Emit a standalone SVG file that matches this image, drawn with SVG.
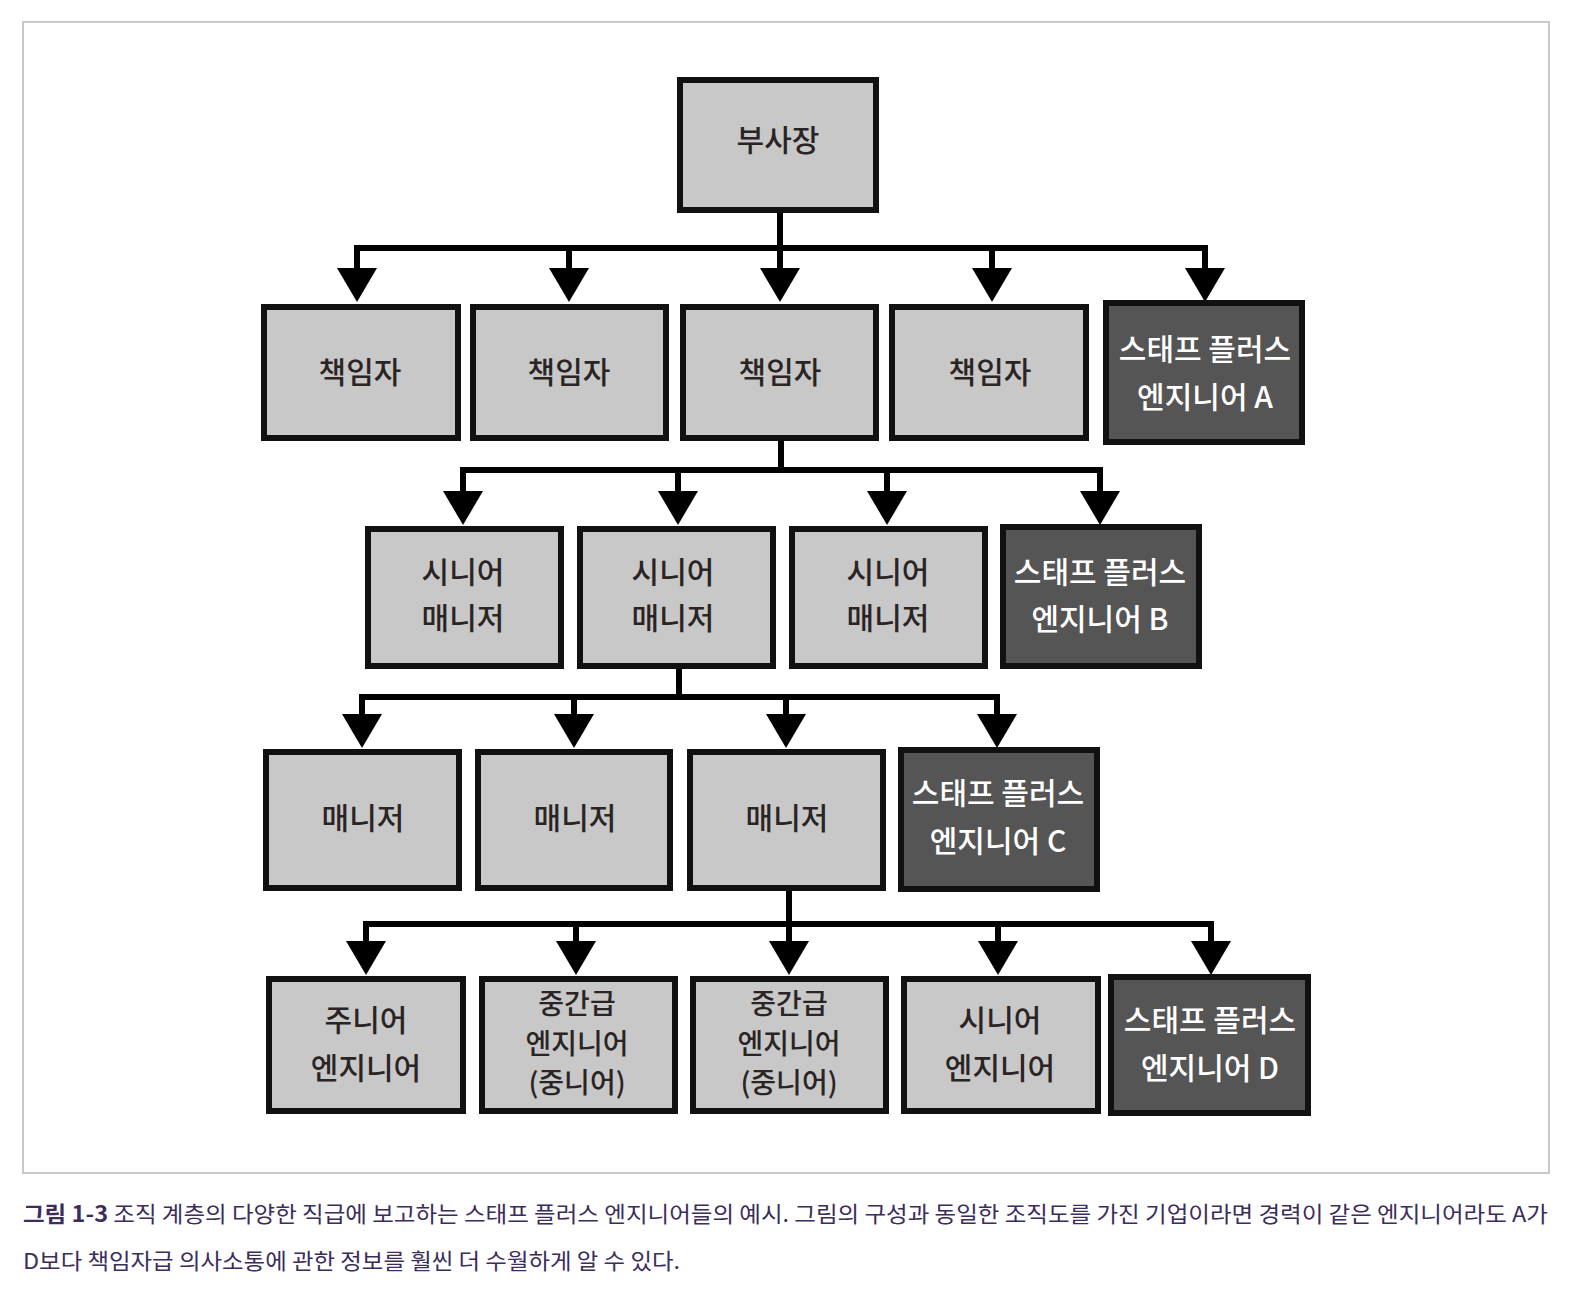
<svg xmlns="http://www.w3.org/2000/svg" width="1570" height="1294" viewBox="0 0 1570 1294">
<defs>
<style>
.frame{fill:#ffffff;stroke:#c8c8c8;stroke-width:2}
.box{stroke:#111111;stroke-width:6;stroke-linejoin:miter}
.light{fill:#c8c8c8}
.dark{fill:#555555}
.t{font-family:"Noto Sans CJK KR","Noto Sans",sans-serif;font-size:30px;font-weight:500;text-anchor:middle}
.s{font-size:28px}
.tl{fill:#2a2424}
.td{fill:#ffffff}
.line{stroke:#000000;stroke-width:6;fill:none;stroke-linecap:butt}
.cap{font-family:"Noto Sans CJK KR","Noto Sans",sans-serif;font-size:22px;fill:#3b2d5c}
</style>
<marker id="arr" viewBox="0 0 34 40" refX="24" refY="20" markerWidth="34" markerHeight="40" markerUnits="userSpaceOnUse" orient="auto">
<path d="M0,0 L34,20 L0,40 Z" fill="#000000"/>
</marker>
</defs>
<rect x="0" y="0" width="1570" height="1294" fill="#ffffff"/>
<rect class="frame" x="23" y="22" width="1526" height="1151"/>

<g id="connectors">
<path class="line" d="M780,212 V248"/>
<path class="line" d="M354,248 H1208"/>
<path class="line" d="M357,248 V292" marker-end="url(#arr)"/>
<path class="line" d="M569,248 V292" marker-end="url(#arr)"/>
<path class="line" d="M780,248 V292" marker-end="url(#arr)"/>
<path class="line" d="M992,248 V292" marker-end="url(#arr)"/>
<path class="line" d="M1205,248 V292" marker-end="url(#arr)"/>

<path class="line" d="M781,440 V470"/>
<path class="line" d="M460,470 H1103"/>
<path class="line" d="M463,470 V515" marker-end="url(#arr)"/>
<path class="line" d="M678,470 V515" marker-end="url(#arr)"/>
<path class="line" d="M887,470 V515" marker-end="url(#arr)"/>
<path class="line" d="M1100,470 V515" marker-end="url(#arr)"/>

<path class="line" d="M679,668 V697"/>
<path class="line" d="M359,697 H1000"/>
<path class="line" d="M362,697 V738" marker-end="url(#arr)"/>
<path class="line" d="M574,697 V738" marker-end="url(#arr)"/>
<path class="line" d="M786,697 V738" marker-end="url(#arr)"/>
<path class="line" d="M997,697 V738" marker-end="url(#arr)"/>

<path class="line" d="M789,890 V924"/>
<path class="line" d="M363,924 H1214"/>
<path class="line" d="M366,924 V965" marker-end="url(#arr)"/>
<path class="line" d="M576,924 V965" marker-end="url(#arr)"/>
<path class="line" d="M789,924 V965" marker-end="url(#arr)"/>
<path class="line" d="M998,924 V965" marker-end="url(#arr)"/>
<path class="line" d="M1211,924 V965" marker-end="url(#arr)"/>
</g>

<g id="vp">
<rect class="box light" x="680" y="80" width="196" height="130"/>
<text class="t tl" x="778" y="151">부사장</text>
</g>

<g id="lead1"><rect class="box light" x="264" y="307" width="194" height="131"/><text class="t tl" x="360" y="383">책임자</text></g>
<g id="lead2"><rect class="box light" x="473" y="307" width="193" height="131"/><text class="t tl" x="569" y="383">책임자</text></g>
<g id="lead3"><rect class="box light" x="683" y="307" width="193" height="131"/><text class="t tl" x="780" y="383">책임자</text></g>
<g id="lead4"><rect class="box light" x="892" y="307" width="194" height="131"/><text class="t tl" x="990" y="383">책임자</text></g>
<g id="staffA"><rect class="box dark" x="1106" y="303" width="196" height="139"/>
<text class="t td" x="1205" y="360">스태프 플러스</text><text class="t td" x="1205" y="408">엔지니어 A</text></g>

<g id="sm1"><rect class="box light" x="368" y="529" width="193" height="137"/>
<text class="t tl" x="463" y="583">시니어</text><text class="t tl" x="463" y="629">매니저</text></g>
<g id="sm2"><rect class="box light" x="580" y="529" width="193" height="137"/>
<text class="t tl" x="673" y="583">시니어</text><text class="t tl" x="673" y="629">매니저</text></g>
<g id="sm3"><rect class="box light" x="792" y="529" width="193" height="137"/>
<text class="t tl" x="888" y="583">시니어</text><text class="t tl" x="888" y="629">매니저</text></g>
<g id="staffB"><rect class="box dark" x="1003" y="527" width="196" height="139"/>
<text class="t td" x="1100" y="583">스태프 플러스</text><text class="t td" x="1100" y="630">엔지니어 B</text></g>

<g id="m1"><rect class="box light" x="266" y="752" width="193" height="136"/><text class="t tl" x="363" y="829">매니저</text></g>
<g id="m2"><rect class="box light" x="478" y="752" width="192" height="136"/><text class="t tl" x="575" y="829">매니저</text></g>
<g id="m3"><rect class="box light" x="690" y="752" width="193" height="136"/><text class="t tl" x="787" y="829">매니저</text></g>
<g id="staffC"><rect class="box dark" x="901" y="750" width="196" height="139"/>
<text class="t td" x="998" y="804">스태프 플러스</text><text class="t td" x="998" y="852">엔지니어 C</text></g>

<g id="jr"><rect class="box light" x="269" y="979" width="194" height="132"/>
<text class="t tl" x="366" y="1031">주니어</text><text class="t tl" x="366" y="1079">엔지니어</text></g>
<g id="mid1"><rect class="box light" x="482" y="979" width="193" height="132"/>
<text class="t s tl" x="577" y="1014">중간급</text><text class="t s tl" x="577" y="1054">엔지니어</text><text class="t s tl" x="577" y="1093">(중니어)</text></g>
<g id="mid2"><rect class="box light" x="693" y="979" width="193" height="132"/>
<text class="t s tl" x="789" y="1014">중간급</text><text class="t s tl" x="789" y="1054">엔지니어</text><text class="t s tl" x="789" y="1093">(중니어)</text></g>
<g id="sr"><rect class="box light" x="904" y="979" width="194" height="132"/>
<text class="t tl" x="1000" y="1031">시니어</text><text class="t tl" x="1000" y="1079">엔지니어</text></g>
<g id="staffD"><rect class="box dark" x="1111" y="977" width="197" height="136"/>
<text class="t td" x="1210" y="1031">스태프 플러스</text><text class="t td" x="1210" y="1079">엔지니어 D</text></g>

<g id="caption">
<text class="cap" x="23" y="1222" textLength="1525" lengthAdjust="spacingAndGlyphs"><tspan font-weight="700">그림 1-3</tspan> 조직 계층의 다양한 직급에 보고하는 스태프 플러스 엔지니어들의 예시. 그림의 구성과 동일한 조직도를 가진 기업이라면 경력이 같은 엔지니어라도 A가</text>
<text class="cap" x="23" y="1269" textLength="657" lengthAdjust="spacingAndGlyphs">D보다 책임자급 의사소통에 관한 정보를 훨씬 더 수월하게 알 수 있다.</text>
</g>
</svg>
